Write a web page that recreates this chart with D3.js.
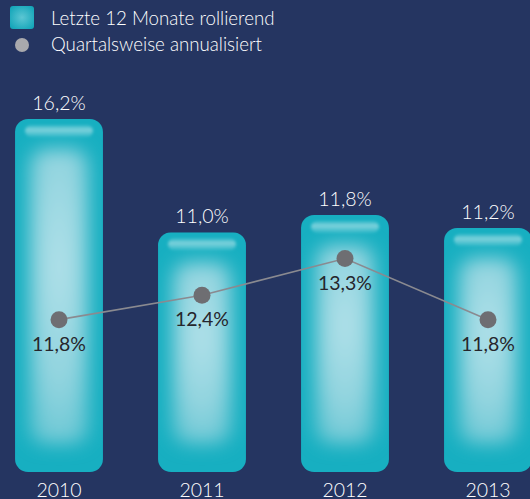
<!DOCTYPE html>
<html><head><meta charset="utf-8">
<script src="https://cdn.jsdelivr.net/npm/d3@7"></script>
<style>html,body{margin:0;padding:0;background:#253561;}svg{display:block;}</style>
</head><body>
<script>
const years = ["2010","2011","2012","2013"];
const rolling = [16.2, 11.0, 11.8, 11.2];
const quarterly = [11.8, 12.4, 13.3, 11.8];
const legendLabels = ["Letzte 12 Monate rollierend", "Quartalsweise annualisiert"];
const fmt = v => d3.format(".1f")(v).replace(".", ",") + "%";

const W = 530, H = 499;
const svg = d3.select("body").append("svg").attr("width", W).attr("height", H)
  .style("font-family", "Lato, 'Open Sans', sans-serif").style("font-weight", 300);
svg.append("rect").attr("width", W).attr("height", H).attr("fill", "#253561");

const defs = svg.append("defs");
const blur = defs.append("filter").attr("id","blur").attr("x","-50%").attr("y","-50%").attr("width","200%").attr("height","200%");
blur.append("feGaussianBlur").attr("stdDeviation", 9);
const blur2 = defs.append("filter").attr("id","blur2").attr("x","-20%").attr("y","-50%").attr("width","140%").attr("height","200%");
blur2.append("feGaussianBlur").attr("stdDeviation", 1.5);
const ig = defs.append("radialGradient").attr("id","ig").attr("cx",0.5).attr("cy",0.4).attr("r",0.7);
[[0,"#b4e2ea"],[0.6,"#8fd3de"],[1,"#5cc3d1"]].forEach(([o,c])=>ig.append("stop").attr("offset",o).attr("stop-color",c));
const gl = defs.append("linearGradient").attr("id","gl").attr("x1",0).attr("x2",0).attr("y1",0).attr("y2",1);
[[0,"#ffffff",0.1],[0.4,"#ffffff",0.45],[1,"#ffffff",0.08]]
  .forEach(([o,c,a])=>gl.append("stop").attr("offset",o).attr("stop-color",c).attr("stop-opacity",a));
const lgG = defs.append("radialGradient").attr("id","lgG").attr("cx",0.5).attr("cy",0.5).attr("r",0.6);
[[0,"#5cc6d3"],[1,"#16a7ba"]].forEach(([o,c])=>lgG.append("stop").attr("offset",o).attr("stop-color",c));

const x = d3.scaleBand().domain(years).range([-12.5, 559.5]).paddingInner(0.385).paddingOuter(0.1925);
const y = d3.scaleLinear().domain([0, 16.2]).range([472, 119]);
const y2 = d3.scaleLinear().domain([10, 14]).range([393, 230]);

years.forEach((d,i) => {
  defs.append("clipPath").attr("id","cp"+i).append("rect")
    .attr("x", x(d)).attr("width", x.bandwidth())
    .attr("y", y(rolling[i])).attr("height", y(0) - y(rolling[i])).attr("rx", 13);
});

const bars = svg.append("g").selectAll("g").data(years).join("g")
  .attr("clip-path", (d,i) => `url(#cp${i})`);
bars.append("rect")
  .attr("x", d => x(d)).attr("width", x.bandwidth())
  .attr("y", (d,i) => y(rolling[i])).attr("height", (d,i) => y(0) - y(rolling[i]))
  .attr("fill", "#17afc1");
bars.append("rect")
  .attr("x", d => x(d) + 14).attr("width", x.bandwidth() - 28)
  .attr("y", (d,i) => y(rolling[i]) + 30).attr("height", (d,i) => y(0) - y(rolling[i]) - 58)
  .attr("rx", 16).attr("fill", "url(#ig)").attr("filter","url(#blur)");
bars.append("rect")
  .attr("x", d => x(d) + 10).attr("width", x.bandwidth() - 20)
  .attr("y", (d,i) => y(rolling[i]) + 6).attr("height", 12)
  .attr("rx", 6).attr("fill", "url(#gl)").attr("filter","url(#blur2)");

svg.append("g").selectAll("text").data(years).join("text")
  .attr("x", (d) => x(d) + x.bandwidth()/2).attr("y", (d,i) => y(rolling[i]) - 9)
  .attr("text-anchor","middle").attr("fill","#ffffff").attr("font-size", 19.5)
  .text((d,i) => fmt(rolling[i]));

const line = d3.line().x((d,i) => x(years[i]) + x.bandwidth()/2).y(d => y2(d));
svg.append("path").datum(quarterly).attr("d", line).attr("fill","none")
  .attr("stroke","#8a8a90").attr("stroke-width",1.6);
svg.append("g").selectAll("circle").data(quarterly).join("circle")
  .attr("cx",(d,i) => x(years[i]) + x.bandwidth()/2).attr("cy", d => y2(d))
  .attr("r", 8.5).attr("fill","#6e6e72");
svg.append("g").selectAll("text").data(quarterly).join("text")
  .attr("x",(d,i) => x(years[i]) + x.bandwidth()/2).attr("y", d => y2(d) + 31)
  .attr("text-anchor","middle").attr("fill","#26262c").attr("font-size", 19.5)
  .style("font-weight", 400)
  .text(d => fmt(d));

svg.append("g").selectAll("text").data(years).join("text")
  .attr("x", d => x(d) + x.bandwidth()/2).attr("y", 497)
  .attr("text-anchor","middle").attr("fill","#ffffff").attr("font-size", 19.5)
  .text(d => d);

const lg = svg.append("g");
lg.append("rect").attr("x",10).attr("y",6).attr("width",24).attr("height",23).attr("rx",3).attr("fill","url(#lgG)");
lg.append("circle").attr("cx",22).attr("cy",45).attr("r",7).attr("fill","#a9a9ad");
lg.selectAll("text").data(legendLabels).join("text")
  .attr("x",51).attr("y",(d,i) => 25 + i*26).attr("fill","#ffffff").attr("font-size",18.7)
  .text(d => d);
</script>
</body></html>
